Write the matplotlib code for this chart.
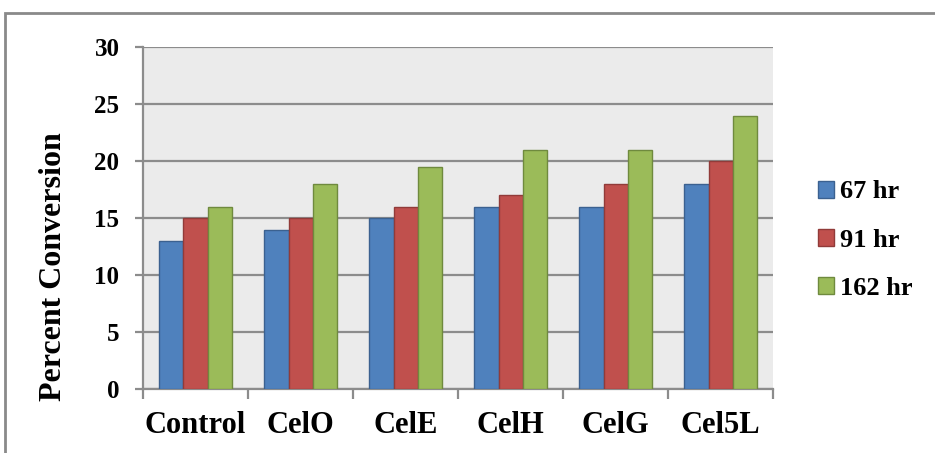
import numpy as np
import matplotlib
matplotlib.use("Agg")
import matplotlib.pyplot as plt
from matplotlib.patches import Rectangle

# data
categories = ["Control", "CelO", "CelE", "CelH", "CelG", "Cel5L"]
series_names = ["67 hr", "91 hr", "162 hr"]
hr67 = [13, 14, 15, 16, 16, 18]
hr91 = [15, 15, 16, 17, 18, 20]
hr162 = [16, 18, 19.5, 21, 21, 24]

colors = ["#4f81bd", "#c0504d", "#9bbb59"]
edges = ["#3b6190", "#913b39", "#6f8a3e"]

serif = ["Liberation Serif", "DejaVu Serif"]

fig = plt.figure(figsize=(9.35, 4.53), dpi=100)
ax = fig.add_axes([0.153, 0.141, 0.674, 0.755])

x = np.arange(len(categories))
w = 0.23
for i, (vals, name) in enumerate(zip([hr67, hr91, hr162], series_names)):
    ax.bar(x + (i - 1) * w, vals, w, color=colors[i], edgecolor=edges[i],
           linewidth=1.0, label=name, zorder=3)

ax.set_facecolor("#ebebeb")
ax.set_xlim(-0.5, len(categories) - 0.5)
ax.set_ylim(0, 30)
ax.set_yticks(np.arange(0, 31, 5))
ax.yaxis.grid(True, color="#8c8c8c", linewidth=1.6, zorder=0)
ax.set_axisbelow(True)

for s in ["top", "right"]:
    ax.spines[s].set_visible(False)
for s in ["left", "bottom"]:
    ax.spines[s].set_color("#8c8c8c")
    ax.spines[s].set_linewidth(1.6)

# boundary ticks without labels, category labels on minor ticks
ax.set_xticks(np.arange(-0.5, len(categories), 1.0))
ax.set_xticklabels([])
ax.tick_params(axis="x", which="major", length=7, width=1.6, color="#8c8c8c")
ax.set_xticks(x, minor=True)
ax.set_xticklabels(categories, minor=True, fontfamily=serif,
                   fontweight="bold", fontsize=22)
ax.tick_params(axis="x", which="minor", length=0, pad=16)

ax.tick_params(axis="y", length=6, width=1.6, color="#8c8c8c", pad=11)
for lab in ax.get_yticklabels():
    lab.set_fontfamily(serif)
    lab.set_fontweight("bold")
    lab.set_fontsize(18)

ax.set_ylabel("Percent Conversion", fontfamily=serif, fontweight="bold",
              fontsize=23)
ax.yaxis.set_label_coords(-0.119, 0.357)

leg = ax.legend(loc="center left", bbox_to_anchor=(1.033, 0.436), frameon=False,
                prop={"family": serif, "weight": "bold", "size": 19},
                handlelength=0.6, handleheight=0.6, handletextpad=0.25,
                labelspacing=0.95)

# outer chart border
fig.patches.append(Rectangle((5 / 935, -0.05), 1.2, 1 - 13 / 453 + 0.05,
                             transform=fig.transFigure, fill=False,
                             edgecolor="#8a8a8a", linewidth=2.0))

fig.savefig("out.png", dpi=100)
